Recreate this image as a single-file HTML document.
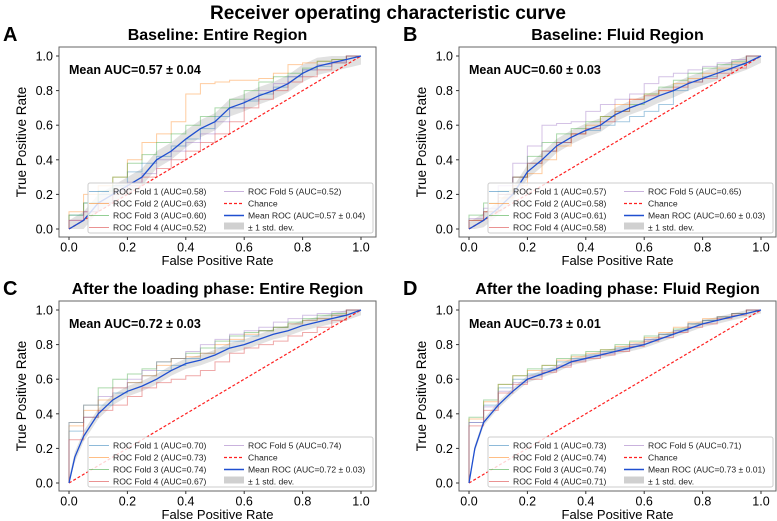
<!DOCTYPE html>
<html><head><meta charset="utf-8"><style>
html,body{margin:0;padding:0;background:#fff}
svg{display:block;font-family:"Liberation Sans",Arial,sans-serif}
</style></head><body>
<svg id="fig" width="777" height="521" viewBox="0 0 777 521">
<text x="388" y="19" text-anchor="middle" font-size="19" font-weight="bold">Receiver operating characteristic curve</text>
</svg>
<script>
const meanFpr = [0,0.02,0.05,0.1,0.15,0.2,0.25,0.3,0.35,0.4,0.45,0.5,0.55,0.6,0.65,0.7,0.75,0.8,0.85,0.9,0.95,1];
const foldFpr = [0,0.05,0.1,0.15,0.2,0.25,0.3,0.35,0.4,0.45,0.5,0.55,0.6,0.65,0.7,0.75,0.8,0.85,0.9,0.95,1];
const panelLetters = ["A","B","C","D"];
const panelTitles = ["Baseline: Entire Region","Baseline: Fluid Region","After the loading phase: Entire Region","After the loading phase: Fluid Region"];
const meanAucText = ["0.57 ± 0.04","0.60 ± 0.03","0.72 ± 0.03","0.73 ± 0.01"];
const foldAucA = ["0.58","0.63","0.60","0.52","0.52"];
const foldAucB = ["0.57","0.58","0.61","0.58","0.65"];
const foldAucC = ["0.70","0.73","0.74","0.67","0.74"];
const foldAucD = ["0.73","0.74","0.74","0.71","0.71"];
const stdA = 0.05, stdB = 0.04, stdC = 0.03, stdD = 0.02;
const meanA = [0,0.02,0.05,0.15,0.2,0.25,0.3,0.4,0.45,0.52,0.58,0.62,0.7,0.73,0.77,0.8,0.84,0.9,0.94,0.96,0.98,1];
const meanB = [0,0.02,0.05,0.12,0.2,0.33,0.4,0.48,0.53,0.57,0.6,0.66,0.7,0.73,0.77,0.8,0.84,0.87,0.9,0.93,0.96,1];
const meanC = [0,0.15,0.27,0.4,0.48,0.53,0.56,0.6,0.65,0.69,0.71,0.74,0.78,0.8,0.83,0.86,0.88,0.91,0.93,0.95,0.97,1];
const meanD = [0,0.2,0.35,0.45,0.53,0.6,0.63,0.66,0.7,0.72,0.74,0.76,0.78,0.8,0.83,0.86,0.89,0.92,0.94,0.96,0.98,1];
const foldsA = [
 [0,.08,.15,.2,.25,.33,.38,.42,.48,.52,.58,.65,.7,.74,.78,.82,.88,.92,.94,.96,1],
 [0,.1,.2,.25,.3,.4,.5,.55,.62,.78,.84,.85,.86,.86,.87,.9,.95,.96,.97,.98,1],
 [0,.08,.15,.22,.3,.38,.43,.5,.55,.6,.65,.7,.75,.8,.85,.88,.9,.93,.97,.98,1],
 [0,.05,.1,.15,.2,.25,.3,.35,.4,.45,.5,.55,.62,.7,.75,.8,.85,.88,.92,.96,1],
 [0,.05,.1,.15,.22,.27,.32,.4,.45,.5,.55,.62,.7,.75,.8,.84,.88,.92,.95,.97,1]];
const foldsB = [
 [0,.05,.1,.2,.3,.38,.45,.5,.55,.57,.6,.62,.65,.68,.72,.8,.85,.88,.92,.95,1],
 [0,.05,.1,.18,.25,.32,.4,.48,.55,.6,.65,.72,.75,.78,.8,.84,.87,.9,.93,.96,1],
 [0,.08,.15,.22,.3,.42,.5,.55,.58,.62,.65,.68,.72,.78,.82,.86,.9,.93,.95,.97,1],
 [0,.05,.1,.2,.3,.38,.45,.5,.55,.58,.62,.68,.75,.77,.8,.82,.85,.87,.9,.93,1],
 [0,.06,.12,.25,.38,.48,.6,.61,.62,.68,.72,.75,.78,.84,.88,.9,.92,.94,.96,.98,1]];
const foldsC = [
 [0,.3,.38,.45,.52,.58,.62,.65,.68,.72,.75,.78,.82,.85,.88,.9,.92,.94,.95,.97,1],
 [0,.33,.42,.48,.55,.58,.62,.68,.72,.73,.75,.8,.83,.86,.88,.9,.92,.94,.95,.97,1],
 [0,.35,.45,.55,.6,.63,.66,.7,.72,.75,.78,.82,.85,.87,.88,.9,.93,.95,.97,.98,1],
 [0,.25,.38,.42,.45,.5,.55,.58,.6,.62,.65,.7,.75,.78,.8,.82,.85,.87,.9,.94,1],
 [0,.35,.45,.5,.55,.6,.65,.7,.72,.76,.8,.83,.86,.88,.9,.93,.95,.97,.98,.99,1]];
const foldsD = [
 [0,.35,.45,.55,.6,.63,.66,.7,.72,.74,.76,.78,.8,.83,.86,.88,.92,.94,.96,.98,1],
 [0,.37,.47,.57,.62,.65,.68,.71,.73,.75,.77,.79,.81,.84,.87,.9,.93,.95,.96,.98,1],
 [0,.38,.48,.57,.62,.66,.68,.72,.74,.76,.77,.8,.82,.85,.86,.89,.92,.94,.96,.98,1],
 [0,.33,.42,.52,.57,.6,.64,.67,.7,.72,.74,.76,.79,.82,.84,.87,.9,.92,.95,.97,1],
 [0,.35,.44,.53,.58,.62,.65,.68,.71,.73,.75,.77,.8,.83,.86,.88,.92,.94,.96,.98,1]];
const ticks = [0,0.2,0.4,0.6,0.8,1.0];
const tickLabels = ["0.0","0.2","0.4","0.6","0.8","1.0"];
const foldColors = ["#1f77b4","#ff7f0e","#2ca02c","#d62728","#9467bd"];

const panels = [
 {ox:0, oy:0, mean:meanA, folds:foldsA, std:stdA, auc:foldAucA},
 {ox:400, oy:0, mean:meanB, folds:foldsB, std:stdB, auc:foldAucB},
 {ox:0, oy:254, mean:meanC, folds:foldsC, std:stdC, auc:foldAucC},
 {ox:400, oy:254, mean:meanD, folds:foldsD, std:stdD, auc:foldAucD}
];
const NS = "http://www.w3.org/2000/svg";
const svg = document.getElementById("fig");
function mk(tag, attrs, parent, text){
  const e = document.createElementNS(NS, tag);
  for (const k in attrs) e.setAttribute(k, attrs[k]);
  if (text !== undefined) e.textContent = text;
  (parent||svg).appendChild(e);
  return e;
}
panels.forEach((p, i) => {
  const g = mk("g", {transform:`translate(${p.ox},${p.oy})`});
  
  
  const x0 = 69, x1 = 361, y0 = 229, y1 = 56;
  const sx = v => x0 + v*(x1-x0);
  const sy = v => y0 - v*(y0-y1);
  const letter = mk("text", {x:3, y:41, "font-size":20, "font-weight":"bold"}, g, panelLetters[i]);
  
  
  const title = mk("text", {x:(59+376)/2, y:40, "text-anchor":"middle", "font-size":16, "font-weight":"bold"}, g, panelTitles[i]);
  
  
  let d = "";
  meanFpr.forEach((f,k)=>{ d += (k?"L":"M") + sx(f) + "," + sy(Math.min(1,p.mean[k]+p.std)); });
  for (let k=meanFpr.length-1;k>=0;k--) d += "L" + sx(meanFpr[k]) + "," + sy(Math.max(0,p.mean[k]-p.std));
  const band = mk("path", {d:d+"Z", fill:"#c8c8c8", opacity:0.55}, g);
  
  
  p.folds.forEach((fv, fi) => {
    let s = "M" + sx(0) + "," + sy(0);
    for (let k=1;k<foldFpr.length;k++){
      s += "L" + sx(foldFpr[k-1]) + "," + sy(fv[k]) + "L" + sx(foldFpr[k]) + "," + sy(fv[k]);
    }
    const l = mk("path", {d:s, fill:"none", stroke:foldColors[fi], "stroke-width":1, opacity:0.4}, g);
    
    
  });
  const ch = mk("line", {x1:sx(0), y1:sy(0), x2:sx(1), y2:sy(1), stroke:"#ff2020", "stroke-width":1.2, "stroke-dasharray":"3,2"}, g);
  
  
  const mp = mk("polyline", {points:meanFpr.map((f,k)=>sx(f)+","+sy(p.mean[k])).join(" "), fill:"none", stroke:"#1f4fd0", "stroke-width":1.3}, g);
  
  
  const fr = mk("rect", {x:59, y:47, width:317, height:190, fill:"none", stroke:"#666", "stroke-width":1}, g);
  
  
  ticks.forEach((t,k)=>{
    mk("line", {x1:sx(t), y1:237, x2:sx(t), y2:240, stroke:"#333"}, g);
    const tx = mk("text", {x:sx(t), y:251.5, "text-anchor":"middle", "font-size":12.5}, g, tickLabels[k]);
    
    
    mk("line", {x1:56, y1:sy(t), x2:59, y2:sy(t), stroke:"#333"}, g);
    const ty = mk("text", {x:53, y:sy(t)+4.5, "text-anchor":"end", "font-size":12.5}, g, tickLabels[k]);
    
    
  });
  const xl = mk("text", {x:(59+376)/2, y:265, "text-anchor":"middle", "font-size":13}, g, "False Positive Rate");
  
  
  const yl = mk("text", {x:0, y:0, transform:"translate(26,142) rotate(-90)", "text-anchor":"middle", "font-size":13.5}, g, "True Positive Rate");
  
  
  const ma = mk("text", {x:69, y:74, "font-size":12.5, "font-weight":"bold"}, g, "Mean AUC=" + meanAucText[i]);
  
  
  const lg = mk("g", {}, g);
  
  
  mk("rect", {x:88, y:183, width:285, height:50, rx:2, fill:"#fff", "fill-opacity":0.8, stroke:"#ccc"}, lg);
  const rh = 12, ly = 194.5;
  for (let fi=0; fi<5; fi++){
    const col = fi<4 ? 0 : 1, row = fi<4 ? fi : 0;
    const lx = col ? 224 : 89;
    mk("line", {x1:lx, y1:ly+row*rh-3, x2:lx+20, y2:ly+row*rh-3, stroke:foldColors[fi], opacity:0.5}, lg);
    const t = mk("text", {x:lx+24, y:ly+row*rh, "font-size":8.6, fill:"#222"}, lg, `ROC Fold ${fi+1} (AUC=${p.auc[fi]})`);
    
    
  }
  mk("line", {x1:224, y1:ly+rh-3, x2:244, y2:ly+rh-3, stroke:"#ff2020", "stroke-dasharray":"3,2", "stroke-width":1.2}, lg);
  const t2 = mk("text", {x:248, y:ly+rh, "font-size":8.6, fill:"#222"}, lg, "Chance");
  
  
  mk("line", {x1:224, y1:ly+2*rh-3, x2:244, y2:ly+2*rh-3, stroke:"#1f4fd0", "stroke-width":1.4}, lg);
  const t3 = mk("text", {x:248, y:ly+2*rh, "font-size":8.6, fill:"#222"}, lg, "Mean ROC (AUC=" + meanAucText[i] + ")");
  
  
  mk("rect", {x:224, y:ly+3*rh-8, width:20, height:7, fill:"#d0d0d0"}, lg);
  const t4 = mk("text", {x:248, y:ly+3*rh, "font-size":8.6, fill:"#222"}, lg, "± 1 std. dev.");
  
  
});
</script>
</body></html>
